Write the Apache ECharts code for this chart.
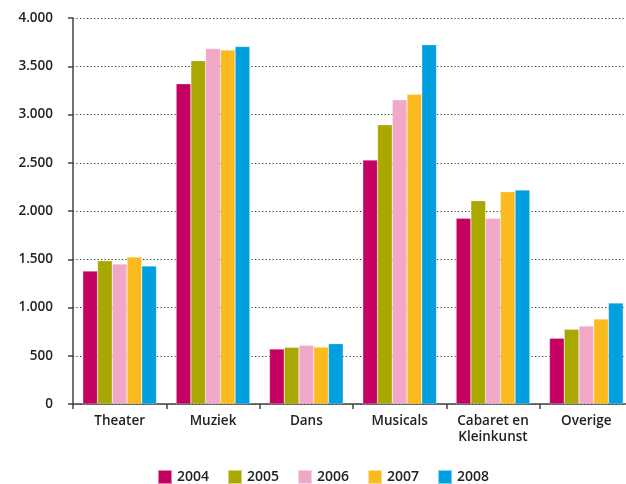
<!DOCTYPE html>
<html><head><meta charset="utf-8">
<script src="https://cdn.jsdelivr.net/npm/echarts@6/dist/echarts.min.js"></script>
<style>html,body{margin:0;padding:0;background:#fff;overflow:hidden}#c{width:633px;height:484px}</style>
</head><body><div id="c"></div>
<script>
const categories = ['Theater', 'Muziek', 'Dans', 'Musicals', 'Cabaret en\nKleinkunst', 'Overige'];
const years = ['2004', '2005', '2006', '2007', '2008'];
const v2004 = [1378, 3319, 570, 2528, 1924, 681];
const v2005 = [1485, 3558, 587, 2895, 2107, 774];
const v2006 = [1451, 3683, 608, 3154, 1924, 808];
const v2007 = [1523, 3668, 590, 3209, 2200, 881];
const v2008 = [1430, 3705, 625, 3724, 2218, 1047];
const colors = ['#c40062', '#aaa800', '#f1a8c8', '#fbbb1f', '#009fdf'];
const yTicks = [0, 500, 1000, 1500, 2000, 2500, 3000, 3500, 4000];

const seriesData = [v2004, v2005, v2006, v2007, v2008];
const font = '"Open Sans", "Noto Sans", sans-serif';
const chart = echarts.init(document.getElementById('c'), null, {renderer: 'canvas'});
chart.setOption({
  animation: false,
  textStyle: {fontFamily: font},
  grid: {left: 73, right: 0, top: 18, bottom: 80, containLabel: false},
  legend: {
    top: 464, left: 152,
    itemWidth: 14, itemHeight: 14, itemGap: 18,
    icon: 'rect',
    textStyle: {fontFamily: font, fontSize: 14, fontWeight: 600, color: '#222'},
    data: years
  },
  xAxis: {
    type: 'category', data: categories,
    axisLine: {lineStyle: {color: '#444', width: 1.5}},
    axisTick: {show: true, length: 5, interval: 0, lineStyle: {color: '#444', width: 1.5}},
    axisLabel: {fontFamily: font, fontSize: 13.5, fontWeight: 600, color: '#222', margin: 9, lineHeight: 16, interval: 0}
  },
  yAxis: {
    type: 'value', min: 0, max: 4000, interval: 500,
    axisLine: {show: true, lineStyle: {color: '#444', width: 1.5}},
    axisTick: {show: true, length: 5, lineStyle: {color: '#444', width: 1.5}},
    splitLine: {show: true, lineStyle: {color: '#333', type: [1.2, 2.3], width: 1}},
    axisLabel: {
      fontFamily: font, fontSize: 13.5, fontWeight: 600, color: '#222', margin: 20,
      formatter: v => yTicks.includes(v) ? v.toLocaleString('de-DE') : ''
    }
  },
  series: years.map((y, i) => ({
    name: y, type: 'bar', data: seriesData[i],
    barGap: '0%', barCategoryGap: '21%',
    itemStyle: {color: colors[i], borderColor: 'rgba(255,255,255,0.5)', borderWidth: 0.5}
  }))
});
</script></body></html>
